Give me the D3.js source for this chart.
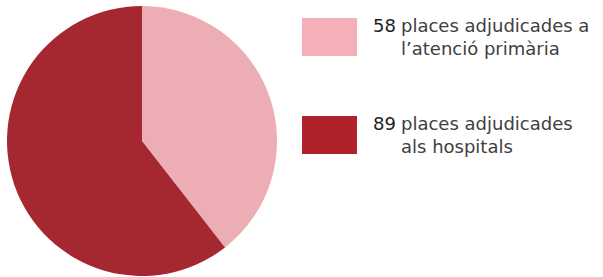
<!DOCTYPE html>
<html>
<head>
<meta charset="utf-8">
<script src="https://cdn.jsdelivr.net/npm/d3@7"></script>
<style>
  body { margin: 0; background: #fff; }
  svg { display: block; }
</style>
</head>
<body>
<div id="chart"></div>
<script>
const WIDTH = 603;
const HEIGHT = 277;
const FONT = "'DejaVu Sans', sans-serif";

// data
const values = [58, 89];
const firstLines = ["places adjudicades a", "places adjudicades"];
const secondLines = ["l\u2019atenció primària", "als hospitals"];
const pieColors = ["#ecaeb4", "#a52830"];
const swatchColors = ["#f4b0b8", "#b0212b"];

const svg = d3.select("#chart")
  .append("svg")
  .attr("width", WIDTH)
  .attr("height", HEIGHT);

// pie, starts at 12 o'clock and goes clockwise
const pie = d3.pie().sort(null)(values);
const arc = d3.arc().innerRadius(0).outerRadius(135);

svg.append("g")
  .attr("transform", "translate(142,141)")
  .selectAll("path")
  .data(pie)
  .enter()
  .append("path")
  .attr("d", arc)
  .attr("fill", (d, i) => pieColors[i]);

// legend
const legend = svg.append("g")
  .selectAll("g")
  .data(values)
  .enter()
  .append("g")
  .attr("transform", (d, i) => `translate(302,${i === 0 ? 18 : 116})`);

legend.append("rect")
  .attr("width", 55)
  .attr("height", 38)
  .attr("fill", (d, i) => swatchColors[i]);

legend.append("text")
  .attr("x", 71)
  .attr("y", 14)
  .attr("font-family", FONT)
  .attr("font-size", 18)
  .attr("fill", "#1e1e1e")
  .text(d => d);

legend.append("text")
  .attr("x", 99)
  .attr("y", 14)
  .attr("font-family", FONT)
  .attr("font-size", 18)
  .attr("fill", "#404040")
  .text((d, i) => firstLines[i]);

legend.append("text")
  .attr("x", 99)
  .attr("y", 37)
  .attr("font-family", FONT)
  .attr("font-size", 18)
  .attr("fill", "#404040")
  .text((d, i) => secondLines[i]);
</script>
</body>
</html>
